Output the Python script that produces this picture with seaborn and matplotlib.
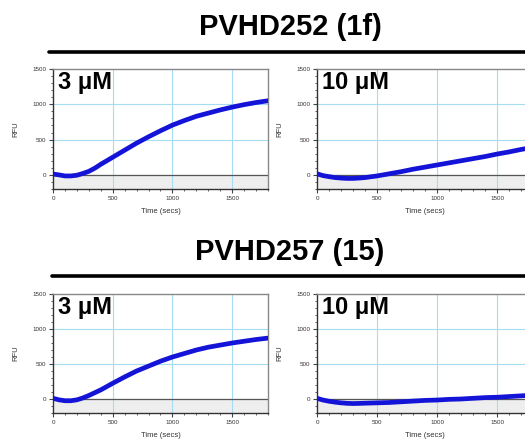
import numpy as np
import pandas as pd
import matplotlib
matplotlib.use("Agg")
import matplotlib.pyplot as plt
from matplotlib.lines import Line2D
from matplotlib.ticker import MultipleLocator
import seaborn as sns

sns.set_style("white")
plt.rcParams['font.family'] = ['Liberation Sans', 'DejaVu Sans']

# time points (secs)
time = [0, 50, 100, 150, 200, 250, 300, 350, 400, 500, 600, 700, 800, 900, 1000,
        1100, 1200, 1300, 1400, 1500, 1600, 1700, 1800]

# PVHD252 (1f)
rfu_252_3uM = [12, 0, -15, -15, -5, 20, 50, 95, 150, 250, 350, 450, 540, 625, 705,
               770, 830, 875, 920, 960, 995, 1025, 1050]
rfu_252_10uM = [15, -10, -25, -38, -45, -50, -50, -45, -38, -15, 15, 45, 80, 110, 140,
                170, 200, 230, 260, 295, 325, 360, 390]

# PVHD257 (15)
rfu_257_3uM = [10, -12, -25, -25, -12, 15, 50, 90, 130, 225, 315, 400, 470, 540, 600,
               650, 700, 740, 770, 800, 825, 850, 870]
rfu_257_10uM = [10, -15, -32, -45, -55, -62, -65, -63, -60, -55, -50, -40, -30, -20, -15,
                -5, 0, 10, 20, 25, 35, 45, 55]

compounds = ["PVHD252 (1f)", "PVHD257 (15)"]
conc_labels = ["3 \u03bcM", "10 \u03bcM"]
series = [[rfu_252_3uM, rfu_252_10uM], [rfu_257_3uM, rfu_257_10uM]]

W, H = 525, 440
fig = plt.figure(figsize=(W / 100, H / 100), dpi=100)


def panel(left, top, right, bottom, y, label):
    ax = fig.add_axes([left / W, 1 - bottom / H, (right - left) / W, (bottom - top) / H])
    ax.set_xlim(0, 1800)
    ax.set_ylim(-200, 1500)
    ax.axhspan(-200, 0, color="#eeeeee", zorder=0)
    for gx in [500, 1000, 1500]:
        ax.axvline(gx, color="#a6dcf2", lw=0.8, zorder=1)
    for gy in [500, 1000]:
        ax.axhline(gy, color="#a6dcf2", lw=0.8, zorder=1)
    ax.axhline(0, color="#555555", lw=0.9, zorder=2)
    df = pd.DataFrame({"t": time, "rfu": y})
    sns.lineplot(data=df, x="t", y="rfu", ax=ax, color="#1414d8", lw=3.4,
                 zorder=3, clip_on=True)
    ax.set_xticks([0, 500, 1000, 1500])
    ax.set_yticks([0, 500, 1000, 1500])
    ax.xaxis.set_minor_locator(MultipleLocator(100))
    ax.yaxis.set_minor_locator(MultipleLocator(100))
    ax.tick_params(which="major", length=3, width=0.8, color="#444444",
                   labelsize=4.5, labelcolor="#333333", pad=2,
                   bottom=True, left=True)
    ax.tick_params(which="minor", length=1.5, width=0.6, color="#444444",
                   bottom=True, left=True)
    for s in ["top", "right"]:
        ax.spines[s].set_color("#888888")
        ax.spines[s].set_linewidth(1.0)
    for s in ["left", "bottom"]:
        ax.spines[s].set_color("#333333")
        ax.spines[s].set_linewidth(1.0)
    ax.set_xlabel("Time (secs)", fontsize=5.5, color="#333333", labelpad=5)
    ax.set_ylabel("RFU", fontsize=5.5, color="#333333", labelpad=9)
    ax.text(0.025, 0.985, label, transform=ax.transAxes, ha="left", va="top",
            fontsize=17, fontweight="bold", color="black", zorder=5)
    return ax


# layout in pixels: (title y, rule y, rule x0, axes top, axes bottom)
rows = [(27, 52, 49, 69, 189), (252, 276, 52, 294, 413)]
cols = [(53, 268), (317, 533)]

for r, (ty, ly, lx, atop, abot) in enumerate(rows):
    fig.text(290 / W, 1 - ty / H, compounds[r], ha="center", va="center",
             fontsize=21, fontweight="bold", color="black")
    fig.add_artist(Line2D([lx / W, 1.0], [1 - ly / H, 1 - ly / H],
                          color="black", lw=2.6, transform=fig.transFigure))
    for c, (al, ar) in enumerate(cols):
        panel(al, atop, ar, abot, series[r][c], conc_labels[c])

fig.savefig("out.png", dpi=100)
